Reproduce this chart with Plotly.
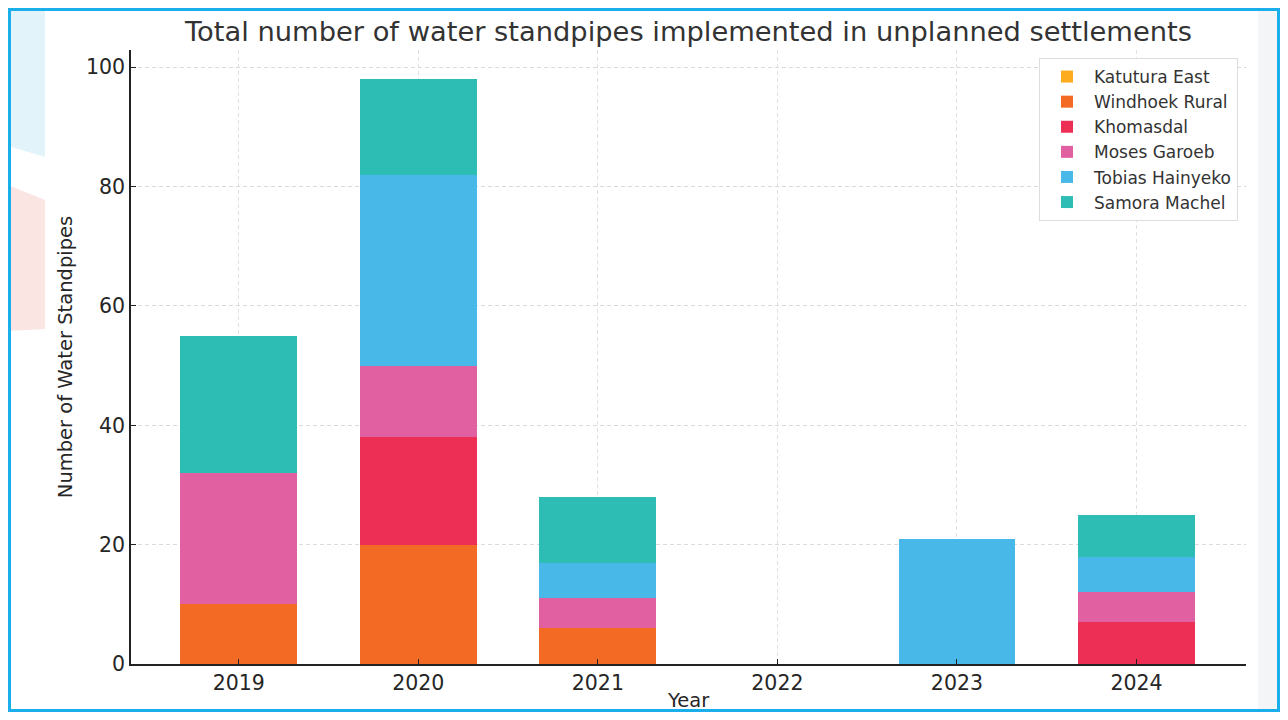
import plotly.graph_objects as go

years = ["2019", "2020", "2021", "2022", "2023", "2024"]
katutura_east = [0, 0, 0, 0, 0, 0]
windhoek_rural = [10, 20, 6, 0, 0, 0]
khomasdal = [0, 18, 0, 0, 0, 7]
moses_garoeb = [22, 12, 5, 0, 0, 5]
tobias_hainyeko = [0, 32, 6, 0, 21, 6]
samora_machel = [23, 16, 11, 0, 0, 7]

series = [
    ("Katutura East", katutura_east, "#FDAC1E"),
    ("Windhoek Rural", windhoek_rural, "#F26A24"),
    ("Khomasdal", khomasdal, "#EE2F55"),
    ("Moses Garoeb", moses_garoeb, "#E060A1"),
    ("Tobias Hainyeko", tobias_hainyeko, "#48B8E9"),
    ("Samora Machel", samora_machel, "#2EBDB4"),
]

# the page body adds an 8px margin on every side; size the figure so the page fits the window
O = 8
W, H = 1288 - 2 * O, 720 - 2 * O
L, R, T, B = 131 - O, 1246 - O, 50 - O, 664 - O


def px(x):
    return (x - O - L) / (R - L)


def py(y):
    return (B - (y - O)) / (B - T)


fig = go.Figure()
for name, vals, col in series:
    fig.add_trace(go.Bar(x=years, y=vals, name=name, marker=dict(color=col, line=dict(width=0)),
                         width=0.65))

font = "DejaVu Sans, Verdana, sans-serif"
shapes = [
    dict(type="path", xref="paper", yref="paper", layer="below",
         path=f"M {px(8)},{py(8)} L {px(45)},{py(8)} L {px(45)},{py(157)} L {px(8)},{py(146)} Z",
         fillcolor="#E2F4FA", line=dict(width=0)),
    dict(type="path", xref="paper", yref="paper", layer="below",
         path=f"M {px(8)},{py(185)} L {px(45)},{py(200)} L {px(45)},{py(329)} L {px(8)},{py(331)} Z",
         fillcolor="#FBE5E3", line=dict(width=0)),
    dict(type="rect", xref="paper", yref="paper", x0=px(1258), x1=px(1282), y0=py(8), y1=py(712),
         fillcolor="#F4F5F6", line=dict(width=0), layer="below"),
    dict(type="rect", xref="paper", yref="paper", x0=px(9.5), x1=px(1278.5), y0=py(9.5), y1=py(710.5),
         fillcolor="rgba(0,0,0,0)", line=dict(color="#1AAEEB", width=3), layer="below"),
]

fig.update_layout(
    width=W, height=H,
    margin=dict(l=L, r=W - R, t=T, b=H - B, autoexpand=False),
    paper_bgcolor="white",
    plot_bgcolor="rgba(0,0,0,0)",
    barmode="stack",
    shapes=shapes,
    font=dict(family=font, color="#262626"),
    title=dict(text="Total number of water standpipes implemented in unplanned settlements",
               xref="paper", x=px(688.5), xanchor="center",
               yref="container", y=1 - (31 - O) / H, yanchor="middle",
               font=dict(size=27.3, color="#333333", family=font)),
    annotations=[
        dict(text="Year", xref="paper", yref="paper", x=px(688), y=py(700),
             xanchor="center", yanchor="middle", showarrow=False,
             font=dict(size=19.5, family=font, color="#262626")),
    ],
    xaxis=dict(
        type="category", range=[-0.6, 5.61], automargin=False,
        tickfont=dict(size=20.5, family=font, color="#262626"),
        showline=True, linecolor="#222222", linewidth=1.5,
        ticks="inside", ticklen=5, tickcolor="#222222",
        showgrid=True, gridcolor="#E0E0E0", griddash="4px,3px", gridwidth=1,
        zeroline=False,
    ),
    yaxis=dict(
        range=[0, 102.9], tickvals=[0, 20, 40, 60, 80, 100], automargin=False,
        title=dict(text="Number of Water Standpipes", font=dict(size=19.5, family=font), standoff=8),
        tickfont=dict(size=20.5, family=font, color="#262626"),
        showline=True, linecolor="#222222", linewidth=1.5,
        ticks="inside", ticklen=5, tickcolor="#222222",
        showgrid=True, gridcolor="#DADADA", griddash="4px,3px", gridwidth=1,
        zeroline=False,
    ),
    legend=dict(
        x=px(1238), xanchor="right", y=py(58), yanchor="top",
        traceorder="normal", bgcolor="white", bordercolor="#DDDDDD", borderwidth=1,
        font=dict(size=17, family=font, color="#333333"),
        itemwidth=44, tracegroupgap=0,
    ),
)

fig.write_html("out.html")
